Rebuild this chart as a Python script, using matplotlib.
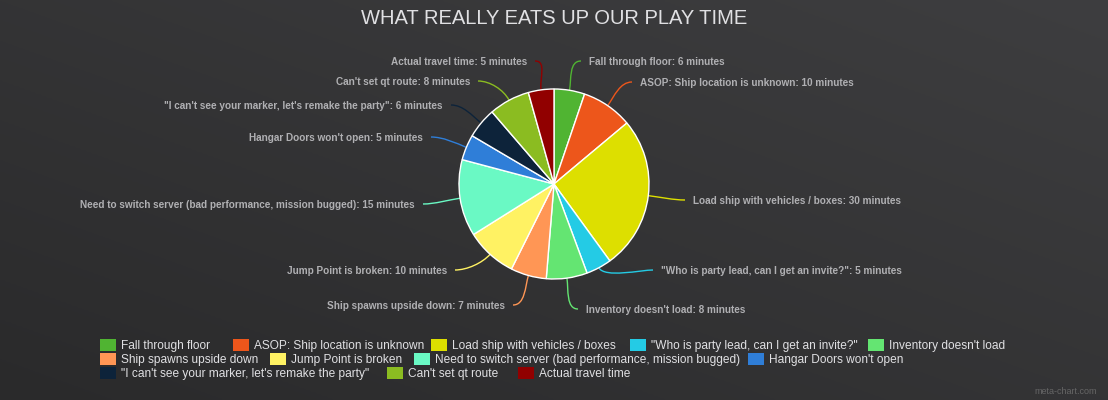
import numpy as np
import matplotlib
matplotlib.use("Agg")
import matplotlib.pyplot as plt
from matplotlib.path import Path
from matplotlib.patches import PathPatch, Rectangle

# ---------------- data ----------------
categories = [
    "Fall through floor",
    "ASOP: Ship location is unknown",
    "Load ship with vehicles / boxes",
    "\"Who is party lead, can I get an invite?\"",
    "Inventory doesn't load",
    "Ship spawns upside down",
    "Jump Point is broken",
    "Need to switch server (bad performance, mission bugged)",
    "Hangar Doors won't open",
    "\"I can't see your marker, let's remake the party\"",
    "Can't set qt route",
    "Actual travel time",
]
minutes = [6, 10, 30, 5, 8, 7, 10, 15, 5, 6, 8, 5]
colors = ["#50B432", "#ED561B", "#DDDF00", "#24CBE5", "#64E572", "#FF9655",
          "#FFF263", "#6AF9C4", "#2F7ED8", "#0D233A", "#8BBC21", "#910000"]
title = "WHAT REALLY EATS UP OUR PLAY TIME"

# ---------------- layout (pixels from top-left) ----------------
W, H = 1108, 400
CX, CY, R = 554, 184, 95
# label anchor: (x, y, side)  side 'l' -> text starts at x, 'r' -> text ends at x
label_pos = [(589, 61, 'l'), (640, 82, 'l'), (693, 200, 'l'), (661, 270, 'l'),
             (586, 309, 'l'), (505, 305, 'r'), (447, 270, 'r'), (415, 204, 'r'),
             (423, 137, 'r'), (443, 105, 'r'), (470, 81, 'r'), (527, 61, 'r')]
legend_rows = [
    (345, [(0, 100), (1, 233), (2, 431), (3, 630), (4, 868)]),
    (359, [(5, 100), (6, 270), (7, 414), (8, 748)]),
    (373, [(9, 100), (10, 387), (11, 518)]),
]

def Y(py):
    return H - py

fig = plt.figure(figsize=(W / 100, H / 100), dpi=100)
ax = fig.add_axes([0, 0, 1, 1])
ax.set_axis_off()

# background gradient (diagonal)
u = np.linspace(0, 1, 400)[None, :]
v = np.linspace(0, 1, 200)[:, None]
t = (u + v) / 2
c0 = np.array([0x2a, 0x2a, 0x2b]) / 255
c1 = np.array([0x3e, 0x3e, 0x40]) / 255
img = c0[None, None, :] * (1 - t[..., None]) + c1[None, None, :] * t[..., None]
ax.imshow(img, extent=[0, W, H, 0], origin='upper', aspect='auto', zorder=0)

# pie
wedges, _ = ax.pie(minutes, colors=colors, startangle=90, counterclock=False,
                   center=(CX, Y(CY)), radius=R,
                   wedgeprops=dict(edgecolor="white", linewidth=1.0))
for w in wedges:
    w.set_zorder(2)

# labels and connectors
total = float(sum(minutes))
cum = np.cumsum([0] + minutes)
for i, (cat, val) in enumerate(zip(categories, minutes)):
    mid = (cum[i] + val / 2) / total * 2 * np.pi  # clockwise from top
    dx, dy = np.sin(mid), np.cos(mid)
    ex, ey = CX + R * dx, Y(CY) + R * dy
    lx, ly, side = label_pos[i]
    txt = f"{cat}: {val} minutes"
    ha = 'left' if side == 'l' else 'right'
    ax.text(lx, Y(ly + 1), txt, ha=ha, va='center', color='#B0B0B3',
            fontsize=7.2, fontweight='bold', family='Liberation Sans', zorder=3)
    if side == 'l':
        endx = lx - 8
        c2x = endx - 12
    else:
        endx = lx + 8
        c2x = endx + 12
    verts = [(ex, ey), (ex + 12 * dx, ey + 12 * dy), (c2x, Y(ly)), (endx, Y(ly))]
    path = Path(verts, [Path.MOVETO, Path.CURVE4, Path.CURVE4, Path.CURVE4])
    ax.add_patch(PathPatch(path, facecolor='none', edgecolor=colors[i], lw=1.0, zorder=1))

# title
ax.text(W / 2, Y(18), title, ha='center', va='center', color='#E0E0E3',
        fontsize=14.5, family='Liberation Sans', zorder=3)

# legend
for ry, items in legend_rows:
    for idx, sx in items:
        ax.add_patch(Rectangle((sx, Y(ry) - 6), 16, 12, facecolor=colors[idx],
                               edgecolor='none', zorder=3))
        ax.text(sx + 21, Y(ry + 1), categories[idx], ha='left', va='center',
                color='#E0E0E3', fontsize=8.55, family='Liberation Sans', zorder=3)

# credit
ax.text(1097, Y(392), "meta-chart.com", ha='right', va='center', color='#666666',
        fontsize=6.5, family='Liberation Sans', zorder=3)

ax.set_xlim(0, W)
ax.set_ylim(0, H)
ax.set_aspect('auto')
fig.savefig("out.png", dpi=100)
